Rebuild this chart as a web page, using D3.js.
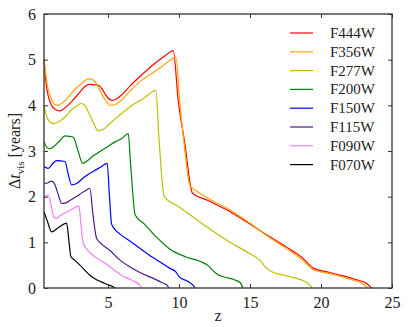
<!DOCTYPE html>
<html>
<head>
<meta charset="utf-8">
<script src="https://cdn.jsdelivr.net/npm/d3@7"></script>
<style>
  body { margin: 0; background: #fff; }
  svg { display: block; font-family: 'Liberation Serif', 'DejaVu Serif', serif; }
</style>
</head>
<body>
<div id="wrapper"></div>
<script>
// data: [z, delta t_vis in years]
const f444w = [[0.5,5.0],[0.6,4.6],[0.75,4.27],[1.0,4.02],[1.3,3.91],[1.62,3.88],[2.0,3.95],[2.5,4.1],[3.0,4.28],[3.4,4.42],[3.7,4.46],[4.0,4.45],[4.4,4.43],[4.7,4.3],[5.0,4.16],[5.3,4.11],[5.6,4.14],[6.0,4.24],[6.55,4.42],[7.25,4.63],[8.43,4.95],[9.0,5.08],[9.6,5.2],[9.95,4.1],[10.4,3.2],[10.95,2.08],[12.0,1.92],[13.6,1.67],[15.0,1.4],[16.4,1.12],[17.8,0.85],[18.9,0.6],[19.2,0.5],[19.5,0.43],[20.5,0.35],[21.5,0.27],[22.5,0.18],[23.1,0.12],[23.4,0.05],[23.55,0]]
const f356w = [[0.5,5.02],[0.6,4.75],[0.75,4.42],[1.0,4.15],[1.2,4.03],[1.45,4.0],[1.8,4.05],[2.2,4.18],[2.6,4.32],[2.9,4.42],[3.1,4.46],[3.4,4.55],[3.75,4.58],[4.1,4.52],[4.4,4.35],[4.8,4.12],[5.2,4.0],[5.6,4.03],[6.0,4.13],[6.55,4.31],[7.25,4.52],[8.43,4.77],[9.0,4.9],[9.79,5.05],[10.05,4.1],[10.35,3.2],[10.77,2.25],[11.5,2.07],[13.6,1.71],[15.0,1.42],[16.4,1.1],[17.8,0.82],[18.85,0.57],[19.4,0.41],[20.5,0.32],[21.5,0.24],[22.5,0.15],[23.0,0.08],[23.3,0]]
const f277w = [[0.5,4.0],[0.7,3.75],[0.9,3.64],[1.2,3.6],[1.6,3.65],[2.0,3.75],[2.5,3.92],[2.8,3.98],[3.1,4.04],[3.4,3.99],[3.7,3.8],[4.0,3.6],[4.32,3.44],[4.7,3.48],[5.2,3.62],[5.8,3.78],[6.55,3.97],[7.5,4.15],[8.38,4.32],[8.6,3.24],[8.97,2.0],[10.0,1.78],[11.5,1.44],[13.6,1.0],[15.0,0.75],[15.7,0.61],[16.1,0.45],[16.5,0.36],[17.5,0.27],[18.5,0.19],[19.0,0.12],[19.3,0.03],[19.35,0]]
const f200w = [[0.5,3.2],[0.7,3.08],[0.92,3.05],[1.2,3.1],[1.6,3.22],[1.97,3.33],[2.3,3.32],[2.56,3.3],[2.9,3.0],[3.22,2.73],[3.6,2.8],[4.0,2.9],[4.5,3.0],[5.0,3.1],[5.5,3.2],[6.0,3.28],[6.43,3.38],[6.6,2.7],[6.92,1.6],[7.5,1.42],[8.4,1.12],[9.37,0.85],[10.5,0.68],[11.5,0.58],[12.1,0.48],[12.4,0.38],[12.7,0.3],[13.2,0.24],[13.9,0.18],[14.3,0.12],[14.5,0]]
const f150w = [[0.5,2.66],[0.8,2.62],[1.1,2.72],[1.39,2.79],[1.97,2.77],[2.2,2.5],[2.44,2.26],[2.8,2.29],[3.3,2.42],[4.0,2.56],[4.5,2.65],[4.95,2.73],[5.1,2.05],[5.26,1.4],[5.5,1.28],[5.85,1.18],[6.55,1.03],[7.25,0.87],[8.2,0.66],[9.37,0.43],[9.8,0.35],[10.0,0.25],[10.65,0.14],[11.0,0.06],[11.13,0]]
const f115w = [[0.5,2.29],[0.75,2.3],[1.03,2.34],[1.27,2.26],[1.5,2.05],[1.74,1.85],[2.0,1.86],[2.5,1.95],[3.0,2.05],[3.4,2.13],[3.73,2.18],[3.95,1.6],[4.2,1.09],[4.6,0.95],[5.14,0.82],[5.85,0.61],[6.5,0.47],[7.25,0.34],[8.2,0.21],[8.6,0.15],[8.78,0.12],[9.13,0.07],[9.3,0]]
const f090w = [[0.5,2.0],[0.8,2.03],[1.0,1.8],[1.2,1.55],[1.39,1.53],[1.7,1.6],[1.97,1.64],[2.5,1.73],[2.96,1.8],[3.1,1.4],[3.26,0.98],[3.6,0.82],[4.2,0.66],[4.9,0.52],[5.5,0.38],[6.0,0.27],[6.5,0.2],[7.0,0.12],[7.25,0.06],[7.37,0]]
const f070w = [[0.5,1.67],[0.75,1.45],[1.03,1.23],[1.5,1.32],[2.09,1.42],[2.25,1.05],[2.39,0.69],[2.7,0.6],[3.03,0.5],[3.4,0.38],[3.73,0.28],[4.2,0.18],[4.79,0.1],[5.0,0.07],[5.3,0.04],[5.5,0]]

const filterNames = ['F444W', 'F356W', 'F277W', 'F200W', 'F150W', 'F115W', 'F090W', 'F070W']
const filterValues = [f444w, f356w, f277w, f200w, f150w, f115w, f090w, f070w]
const filterColors = ['#ff0000', '#ffa500', '#bfbf00', '#008000', '#0000ff', '#4b1a82', '#ee82ee', '#000000']

const xTicks = [5, 10, 15, 20, 25]
const yTicks = [0, 1, 2, 3, 4, 5, 6]

// dimensions
let dimensions = {
  width: 408,
  height: 327,
  margin: { top: 14, right: 16, bottom: 39, left: 44 },
}
dimensions.boundedWidth = dimensions.width - dimensions.margin.left - dimensions.margin.right
dimensions.boundedHeight = dimensions.height - dimensions.margin.top - dimensions.margin.bottom

const wrapper = d3.select('#wrapper').append('svg')
  .attr('width', dimensions.width)
  .attr('height', dimensions.height)

const bounds = wrapper.append('g')
  .attr('transform', `translate(${dimensions.margin.left},${dimensions.margin.top})`)

// scales
const xScale = d3.scaleLinear().domain([0.5, 25]).range([0, dimensions.boundedWidth])
const yScale = d3.scaleLinear().domain([0, 6]).range([dimensions.boundedHeight, 0])

// lines
const lineGenerator = d3.line()
  .x((d) => xScale(d[0]))
  .y((d) => yScale(d[1]))
  .curve(d3.curveMonotoneX)

bounds.append('g').selectAll('path')
  .data(filterValues)
  .join('path')
  .attr('d', lineGenerator)
  .attr('fill', 'none')
  .attr('stroke', (d, i) => filterColors[i])
  .attr('stroke-width', 1.2)

// axes (ticks point inward, on all four sides)
const axisStyle = (g) => {
  g.select('.domain').remove()
  g.selectAll('.tick line').attr('stroke', '#333').attr('stroke-width', 1)
  g.selectAll('.tick text')
    .attr('font-family', "'Liberation Serif', 'DejaVu Serif', serif")
    .attr('font-size', 16)
    .attr('fill', '#222')
}

bounds.append('g')
  .attr('transform', `translate(0,${dimensions.boundedHeight})`)
  .call(d3.axisBottom(xScale).tickValues(xTicks).tickFormat(d3.format('d'))
    .tickSizeInner(-4).tickSizeOuter(0).tickPadding(9))
  .call(axisStyle)

bounds.append('g')
  .call(d3.axisTop(xScale).tickValues(xTicks).tickSizeInner(-4).tickSizeOuter(0).tickFormat(''))
  .call(axisStyle)

bounds.append('g')
  .call(d3.axisLeft(yScale).tickValues(yTicks).tickFormat(d3.format('d'))
    .tickSizeInner(-4).tickSizeOuter(0).tickPadding(8))
  .call(axisStyle)

bounds.append('g')
  .attr('transform', `translate(${dimensions.boundedWidth},0)`)
  .call(d3.axisRight(yScale).tickValues(yTicks).tickSizeInner(-4).tickSizeOuter(0).tickFormat(''))
  .call(axisStyle)

bounds.append('rect')
  .attr('width', dimensions.boundedWidth)
  .attr('height', dimensions.boundedHeight)
  .attr('fill', 'none')
  .attr('stroke', '#333')
  .attr('stroke-width', 1.3)

// axis labels
wrapper.append('text')
  .attr('x', dimensions.margin.left + dimensions.boundedWidth / 2)
  .attr('y', 321)
  .attr('text-anchor', 'middle')
  .attr('font-size', 16)
  .attr('fill', '#222')
  .text('z')

const yLabel = wrapper.append('text')
  .attr('transform', `translate(20,${dimensions.margin.top + dimensions.boundedHeight / 2}) rotate(-90)`)
  .attr('text-anchor', 'middle')
  .attr('font-size', 16)
  .attr('fill', '#222')
yLabel.append('tspan').text('Δ')
yLabel.append('tspan').attr('font-style', 'italic').text('t')
yLabel.append('tspan').attr('font-size', 11).attr('dy', 4).text('vis')
yLabel.append('tspan').attr('dy', -4).text(' [years]')

// legend
const legend = wrapper.append('g')
  .attr('transform', 'translate(290,33)')

const legendItems = legend.selectAll('g')
  .data(filterNames)
  .join('g')
  .attr('transform', (d, i) => `translate(0,${i * 18.8})`)

legendItems.append('line')
  .attr('x1', 0)
  .attr('x2', 23)
  .attr('stroke', (d, i) => filterColors[i])
  .attr('stroke-width', 1.2)

legendItems.append('text')
  .attr('x', 40)
  .attr('dy', '0.33em')
  .attr('font-size', 15)
  .attr('fill', '#222')
  .text((d) => d)
</script>
</body>
</html>
